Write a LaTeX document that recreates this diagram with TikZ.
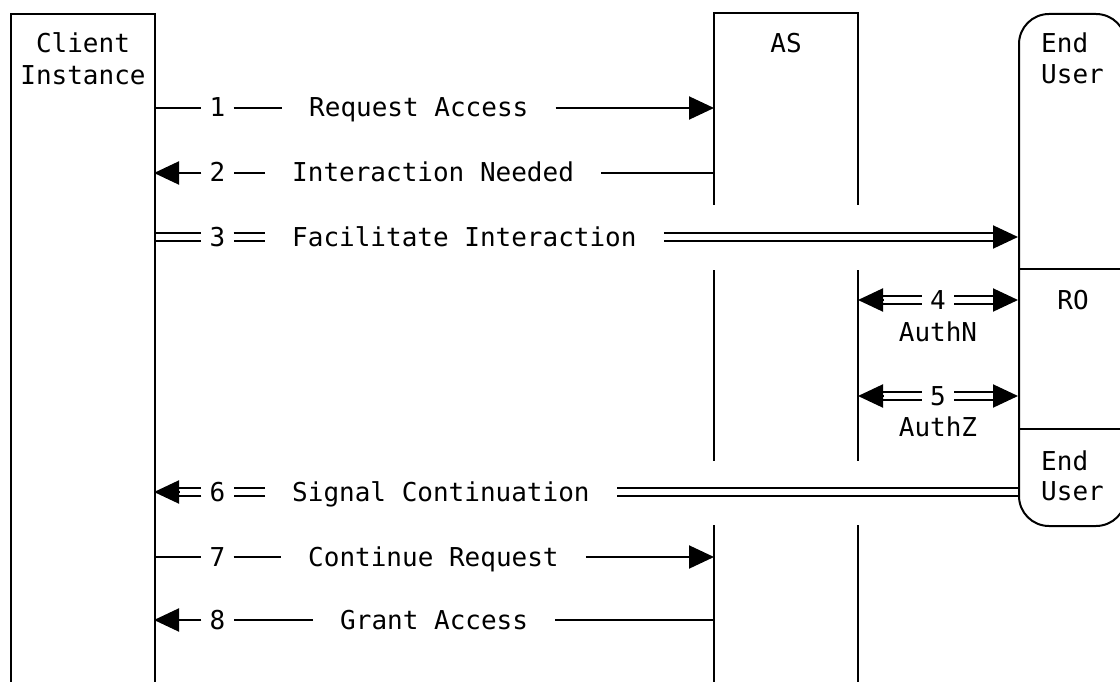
\documentclass[tikz,border=0pt]{standalone}
\usepackage{fontspec}
\newfontfamily\monofont{DejaVu Sans Mono}
\usetikzlibrary{arrows.meta}
\begin{document}
\begin{tikzpicture}[x=1pt,y=-1pt,
  every node/.style={font=\monofont\fontsize{26}{32}\selectfont, inner sep=0pt, text height=18pt, text depth=0pt},
  ln/.style={line width=2pt},
  dbl/.style={line width=2pt, double, double distance=6pt},
  tipar/.style={line width=2pt, -{Triangle[length=25pt,width=23pt]}},
  num/.style={anchor=base, inner xsep=8pt},
  lbl/.style={anchor=base west, inner xsep=27pt},
  txt/.style={anchor=base},
  txtw/.style={anchor=base west},
  box/.style={draw, line width=2pt, anchor=north west}]
\useasboundingbox (0,0) rectangle (1120,682);
\clip (0,0) rectangle (1120,682);

\coordinate (ci) at (154,0);
\coordinate (asl) at (714,0);
\coordinate (asr) at (858,0);
\coordinate (eu) at (1018,0);

% participant labels
\node[txt] (cl1) at (83,53) {Client};
\node[txt] (cl2) at (83,85) {Instance};
\node[txt] (as) at (786,53) {AS};
\node[txtw] (eu1) at (1041,53) {End};
\node[txtw] (eu2) at (1041,84) {User};
\node[txt] (ro) at (1073,309) {RO};
\node[txtw] (eu3) at (1041,470) {End};
\node[txtw] (eu4) at (1041,500) {User};

% 1
\node[num] (n1) at (217.5,117) {1};
\node[lbl] (t1) at (282,117) {Request Access};
\draw[ln] (ci |- n1) -- (n1.west) (n1.east) -- (t1.west);
\draw[tipar] (t1.east) -- (asl |- n1);

% 2
\node[num] (n2) at (217.5,182) {2};
\node[lbl] (t2) at (265,182) {Interaction Needed};
\draw[ln] (asl |- n2) -- (t2.east) (t2.west) -- (n2.east);
\draw[tipar] (n2.west) -- (ci |- n2);

% 3
\node[num] (n3) at (217.5,246) {3};
\node[lbl] (t3) at (265,246) {Facilitate Interaction};
\draw[dbl] (ci |- n3) -- (n3.west) (n3.east) -- (t3.west);
\draw[dbl, shorten >=20pt] (t3.east) -- (eu |- n3);
\draw[tipar] (eu |- n3) ++(-25,0) -- (eu |- n3);

% 4
\node[num] (n4) at (938,309) {4};
\node[txt] (an) at (938,341) {AuthN};
\draw[dbl, shorten <=20pt] (asr |- n4) -- (n4.west);
\draw[dbl, shorten >=20pt] (n4.east) -- (eu |- n4);
\draw[tipar] (asr |- n4) ++(25,0) -- (asr |- n4);
\draw[tipar] (eu |- n4) ++(-25,0) -- (eu |- n4);

% 5
\node[num] (n5) at (938,405) {5};
\node[txt] (az) at (938,436) {AuthZ};
\draw[dbl, shorten <=20pt] (asr |- n5) -- (n5.west);
\draw[dbl, shorten >=20pt] (n5.east) -- (eu |- n5);
\draw[tipar] (asr |- n5) ++(25,0) -- (asr |- n5);
\draw[tipar] (eu |- n5) ++(-25,0) -- (eu |- n5);

% 6
\node[num] (n6) at (217.5,501) {6};
\node[lbl] (t6) at (265,501) {Signal Continuation};
\draw[dbl] (eu |- n6) -- (t6.east) (t6.west) -- (n6.east);
\draw[dbl, shorten >=20pt] (n6.west) -- (ci |- n6);
\draw[tipar] (ci |- n6) ++(25,0) -- (ci |- n6);

% 7
\node[num] (n7) at (217.5,566) {7};
\node[lbl] (t7) at (281,566) {Continue Request};
\draw[ln] (ci |- n7) -- (n7.west) (n7.east) -- (t7.west);
\draw[tipar] (t7.east) -- (asl |- n7);

% 8
\node[num] (n8) at (217.5,629) {8};
\node[lbl] (t8) at (313,629) {Grant Access};
\draw[ln] (asl |- n8) -- (t8.east) (t8.west) -- (n8.east);
\draw[tipar] (n8.west) -- (ci |- n8);

% participants drawn on top of connector ends
\node[box, minimum width=144pt, minimum height=720pt] (client) at (10,13) {};
\node[box, rounded corners=30pt, minimum width=107pt, minimum height=512pt] (enduser) at (1018,13) {};
\draw[ln] (714,205) -- (714,13) -- (858,13) -- (858,205);
\draw[ln] (714,270) -- (714,461) (858,270) -- (858,461);
\draw[ln] (714,525) -- (714,700) (858,525) -- (858,700);
\draw[ln] (enduser.west |- 0,269) -- (1125,269);
\draw[ln] (enduser.west |- 0,429) -- (1125,429);
\end{tikzpicture}
\end{document}
